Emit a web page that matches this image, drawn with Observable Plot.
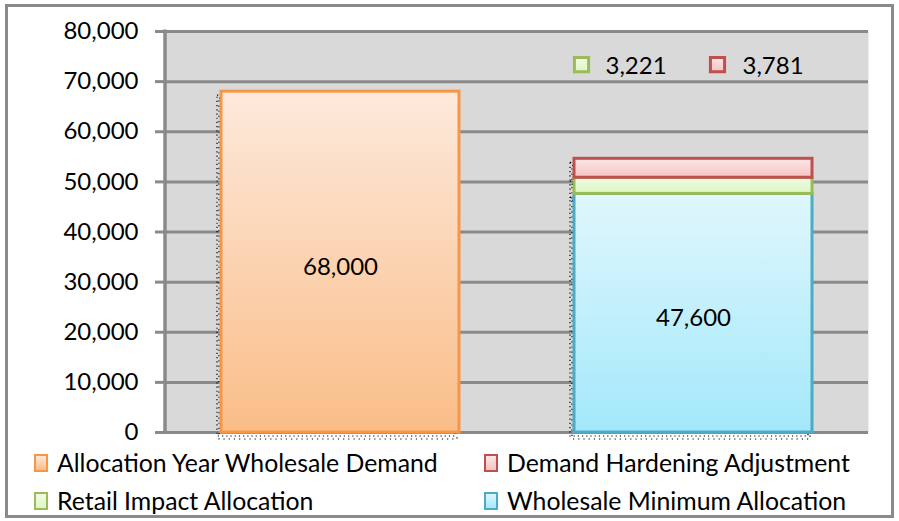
<!DOCTYPE html>
<html><head><meta charset="utf-8">
<script src="https://cdn.jsdelivr.net/npm/d3@7"></script>
<script src="https://cdn.jsdelivr.net/npm/@observablehq/plot@0.6"></script>
<style>
body{margin:0;background:#fff;font-family:Lato,sans-serif;}
#wrap{position:relative;width:899px;height:521px;overflow:hidden;background:#fff;}
#chart{position:absolute;left:0;top:0;}
#box{position:absolute;left:5px;top:4px;width:883px;height:508px;border:3px solid #8a8a8a;pointer-events:none;}
#legend{position:absolute;left:0;top:445px;width:899px;height:76px;}
.item{position:absolute;display:flex;align-items:center;font-size:24.8px;color:#000;white-space:nowrap;line-height:1;}
.sw{width:10px;height:14px;border:2px solid;margin-right:9px;box-sizing:content-box;}
</style></head><body>
<div id="wrap"><div id="chart"></div><div id="legend"></div><div id="box"></div></div>
<script>
// ---- data ----
const barNames = ["Demand", "Allocation"];
const seriesNames = ["Allocation Year Wholesale Demand", "Wholesale Minimum Allocation", "Retail Impact Allocation", "Demand Hardening Adjustment"];
const seriesBar = ["Demand", "Allocation", "Allocation", "Allocation"];
const seriesValues = [68000, 47600, 3221, 3781];
const insideLabel = [true, true, false, false];
const legendOrder = ["Allocation Year Wholesale Demand", "Demand Hardening Adjustment", "Retail Impact Allocation", "Wholesale Minimum Allocation"];
const yTicks = [0, 10000, 20000, 30000, 40000, 50000, 60000, 70000, 80000];

// ---- styles ----
const strokeColor = {
  "Allocation Year Wholesale Demand": "#f79646",
  "Wholesale Minimum Allocation": "#4bacc6",
  "Retail Impact Allocation": "#9bbb59",
  "Demand Hardening Adjustment": "#c0504d"
};
const gradStops = {
  "Allocation Year Wholesale Demand": ["#fde9db", "#fabd88"],
  "Wholesale Minimum Allocation": ["#e0f7fd", "#a3e8fa"],
  "Retail Impact Allocation": ["#f1fbe6", "#ddf7c2"],
  "Demand Hardening Adjustment": ["#fde6e6", "#f6c3c3"]
};
const gradId = s => "g" + seriesNames.indexOf(s);

const data = seriesNames.map((s, i) => ({series: s, bar: seriesBar[i], value: seriesValues[i], inside: insideLabel[i]}));
const fmt = d3.format(",");
const GRID = "#8a8a8a";

const leftAxisLine = (index, scales, values, dims) => {
  const g = d3.create("svg:line")
    .attr("x1", dims.marginLeft).attr("x2", dims.marginLeft)
    .attr("y1", dims.marginTop - 1.5).attr("y2", dims.height - dims.marginBottom + 1.5)
    .attr("stroke", GRID).attr("stroke-width", 3.5);
  return g.node();
};

const callouts = [
  {series: "Retail Impact Allocation", sqDx: -112, txDx: -88},
  {series: "Demand Hardening Adjustment", sqDx: 24, txDx: 49}
];
const calloutY = 73000;
const stackOpts = {x: "bar", y: "value", z: "series", order: seriesNames};

const marks = [
  Plot.frame({fill: "#d9d9d9", stroke: null}),
  Plot.ruleY(yTicks, {stroke: GRID, strokeWidth: 3}),
  Plot.axisY(yTicks, {tickSize: 10, tickPadding: 17, stroke: GRID, strokeWidth: 3, tickFormat: fmt, fontSize: 24, fill: "#000", label: null}),
  leftAxisLine,
  // dotted shadow
  Plot.barY(data, Plot.stackY({...stackOpts, fill: "none", stroke: "#000", strokeWidth: 1.2, strokeDasharray: "1.2,3", dx: -4, dy: 4})),
  Plot.barY(data, Plot.stackY({...stackOpts, fill: "none", stroke: "#000", strokeWidth: 1.2, strokeDasharray: "1.2,4", dx: -2, dy: 7})),
  Plot.barY(data, Plot.stackY({...stackOpts,
    fill: d => `url(#${gradId(d.series)})`, stroke: d => strokeColor[d.series], strokeWidth: 3})),
  Plot.text(data.filter(d => d.inside), Plot.stackY({...stackOpts,
    text: d => fmt(d.value), fontSize: 24, fill: "#000", fontFamily: "Lato", dy: 5})),
  ...callouts.flatMap(c => {
    const row = data.filter(d => d.series === c.series);
    return [
      Plot.dot(row, {x: "bar", y: () => calloutY, symbol: "square", r: 8, dx: c.sqDx, dy: -2,
        fill: d => `url(#${gradId(d.series)})`, stroke: d => strokeColor[d.series], strokeWidth: 3}),
      Plot.text(row, {x: "bar", y: () => calloutY, text: d => fmt(d.value), dx: c.txDx, textAnchor: "start",
        fontSize: 24, fill: "#000", fontFamily: "Lato"})
    ];
  })
];

const plot = Plot.plot({
  width: 899, height: 445,
  marginTop: 31, marginBottom: 13, marginLeft: 165, marginRight: 31,
  style: {fontFamily: "Lato, sans-serif", background: "transparent", overflow: "visible"},
  x: {domain: barNames, paddingInner: 0.327, paddingOuter: 0.158, axis: null},
  y: {domain: [0, 80000], axis: null},
  color: {type: "identity"},
  marks
});

// gradients
const svg = d3.select(plot);
const defs = svg.insert("defs", ":first-child");
seriesNames.forEach(s => {
  const lg = defs.append("linearGradient").attr("id", gradId(s)).attr("x1", 0).attr("y1", 0).attr("x2", 0).attr("y2", 1);
  lg.append("stop").attr("offset", "0%").attr("stop-color", gradStops[s][0]);
  lg.append("stop").attr("offset", "100%").attr("stop-color", gradStops[s][1]);
});
document.getElementById("chart").appendChild(plot);

// legend (HTML below SVG)
const legendPos = [
  {left: 34, top: 6}, {left: 484, top: 6},
  {left: 34, top: 44}, {left: 484, top: 44}
];
const lg = d3.select("#legend");
legendOrder.forEach((s, i) => {
  const it = lg.append("div").attr("class", "item").style("left", legendPos[i].left + "px").style("top", legendPos[i].top + "px");
  it.append("div").attr("class", "sw")
    .style("border-color", strokeColor[s])
    .style("background", `linear-gradient(${gradStops[s][0]}, ${gradStops[s][1]})`);
  it.append("span").text(s);
});
</script>
</body></html>
